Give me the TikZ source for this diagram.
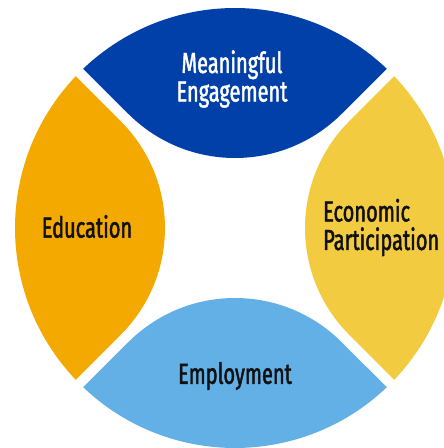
\documentclass[tikz,border=0pt]{standalone}
\usepackage{fontspec}
\setmainfont{Fira Sans}[FakeStretch=0.69, FakeBold=1.6]
\definecolor{segblue}{RGB}{0,64,168}
\definecolor{segorange}{RGB}{244,169,0}
\definecolor{segyellow}{RGB}{242,203,64}
\definecolor{seglight}{RGB}{98,176,230}
\definecolor{txtdark}{RGB}{17,17,17}
\newcommand{\segpath}{(46.38:220) arc[start angle=46.38, end angle=133.62, radius=220] -- (-106.7,114.2) arc[start angle=225, end angle=315, radius=150.9] -- cycle}
\tikzset{
  lbl/.style={font=\fontsize{29}{28.5}\selectfont, inner sep=0pt, text=txtdark},
}
\begin{document}
\begin{tikzpicture}[x=1pt,y=1pt]
\useasboundingbox (-235,-220) rectangle (209,228);
\clip (-235,-220) rectangle (209,228);
\fill[segblue] \segpath;
\fill[segorange, rotate=90] \segpath;
\fill[seglight, rotate=180] \segpath;
\fill[segyellow, rotate=-90] \segpath;
\node[lbl, text=white, align=center] (meaning) at (-3,149) {Meaningful\\Engagement};
\node[lbl] (edu) at (-148,1.5) {Education};
\node[lbl] (emp) at (0,-148) {Employment};
\node[lbl, align=left, anchor=west] (econ) at (88,0.5) {Economic\\Participation};
\end{tikzpicture}
\end{document}
